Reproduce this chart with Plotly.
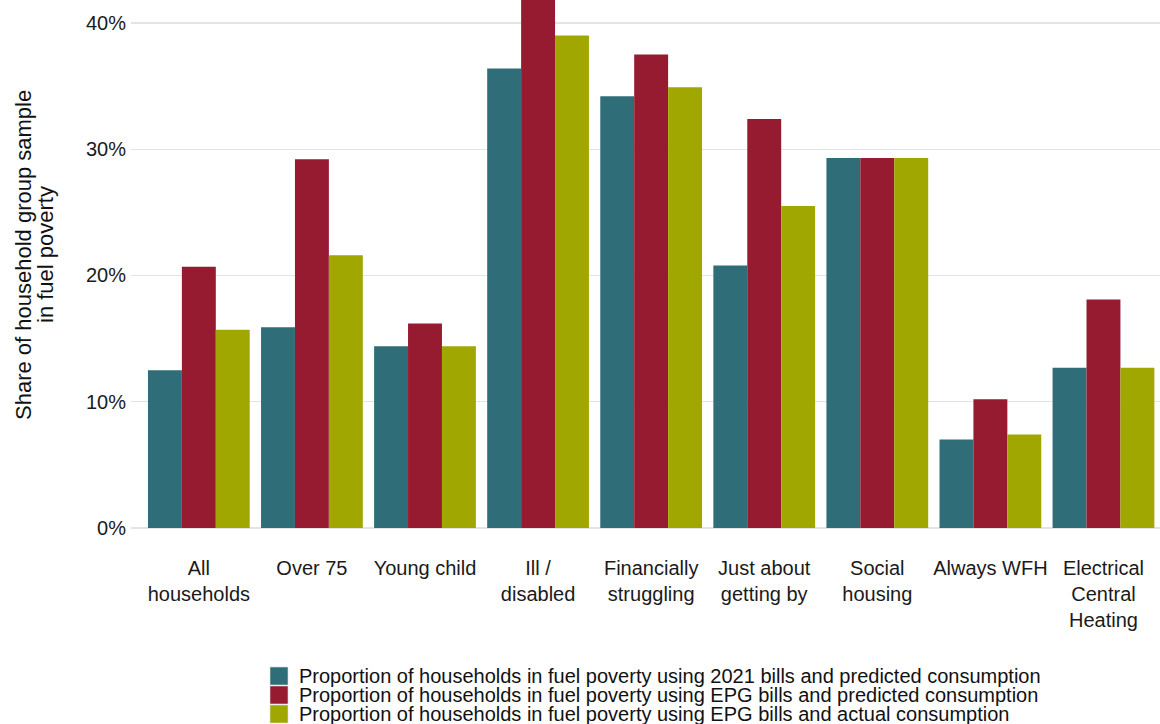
import plotly.graph_objects as go

categories = ["All<br>households", "Over 75", "Young child", "Ill /<br>disabled",
              "Financially<br>struggling", "Just about<br>getting by", "Social<br>housing",
              "Always WFH", "Electrical<br>Central<br>Heating"]

series_names = [
    "Proportion of households in fuel poverty using 2021 bills and predicted consumption",
    "Proportion of households in fuel poverty using EPG bills and predicted consumption",
    "Proportion of households in fuel poverty using EPG bills and actual consumption",
]
bills2021_predicted = [12.5, 15.9, 14.4, 36.4, 34.2, 20.8, 29.3, 7.0, 12.7]
epg_predicted = [20.7, 29.2, 16.2, 42.3, 37.5, 32.4, 29.3, 10.2, 18.1]
epg_actual = [15.7, 21.6, 14.4, 39.0, 34.9, 25.5, 29.3, 7.4, 12.7]

colors = ["#2F6E78", "#961B31", "#A0A800"]
y_ticks = [0, 10, 20, 30, 40]
y_tick_labels = ["0%", "10%", "20%", "30%", "40%"]
y_title_lines = ["Share of household group sample", "in fuel poverty"]

W, H = 1160, 724
ML, MR, MT, MB = 131, 0, 0, 196
PW, PH = W - ML - MR, H - MT - MB

def px_x(px):
    return (px - ML) / PW

def px_y(py):
    return (H - MB - py) / PH

fig = go.Figure()
for name, vals, col in zip(series_names, [bills2021_predicted, epg_predicted, epg_actual], colors):
    fig.add_trace(go.Bar(x=list(range(len(categories))), y=vals, name=name,
                         marker=dict(color=col, line=dict(width=0))))

font_family = "Liberation Sans, Arial, sans-serif"
annotations = []
shapes = []
# y-axis title (two lines, tighter line spacing as in the reference)
for i, (line, cx) in enumerate(zip(y_title_lines, [24, 46])):
    annotations.append(dict(text=line, xref="paper", yref="paper", x=px_x(cx), y=px_y(255),
                            xanchor="center", yanchor="middle", textangle=-90, showarrow=False,
                            font=dict(size=22, color="#111", family=font_family)))
# legend
for i, (name, col) in enumerate(zip(series_names, colors)):
    top = 667 + i * 19
    shapes.append(dict(type="rect", xref="paper", yref="paper",
                       x0=px_x(270), x1=px_x(288), y0=px_y(top), y1=px_y(top + 18),
                       fillcolor=col, line=dict(width=0.6, color="#dddddd")))
    annotations.append(dict(text=name, xref="paper", yref="paper", x=px_x(297), y=px_y(top + 9),
                            xanchor="left", yanchor="middle", showarrow=False,
                            font=dict(size=20, color="#111", family=font_family)))

fig.update_layout(
    width=W, height=H,
    margin=dict(l=ML, r=MR, t=MT, b=MB),
    paper_bgcolor="white", plot_bgcolor="white",
    barmode="group", bargap=0.1, bargroupgap=0,
    font=dict(family=font_family, size=20, color="#1a1a1a"),
    showlegend=False, hovermode=False,
    annotations=annotations, shapes=shapes,
)
fig.update_xaxes(
    tickmode="array", tickvals=list(range(len(categories))), ticktext=categories,
    range=[-0.6, 8.5], showgrid=False, zeroline=False, showline=False, ticks="",
    ticklabelstandoff=26, tickfont=dict(size=20, color="#1a1a1a"), automargin=False,
)
fig.update_yaxes(
    range=[0, 41.82], tickmode="array", tickvals=y_ticks, ticktext=y_tick_labels,
    showgrid=True, gridcolor="#E3E3E3", gridwidth=1.3, zeroline=True, zerolinecolor="#E3E3E3",
    zerolinewidth=1.3, showline=False, ticks="", ticklabelstandoff=4,
    tickfont=dict(size=20, color="#1a1a1a"), automargin=False,
)
fig.write_html("out.html", config={"displayModeBar": False, "staticPlot": True},
               post_script="document.body.style.margin='0';document.body.style.overflow='hidden';")
